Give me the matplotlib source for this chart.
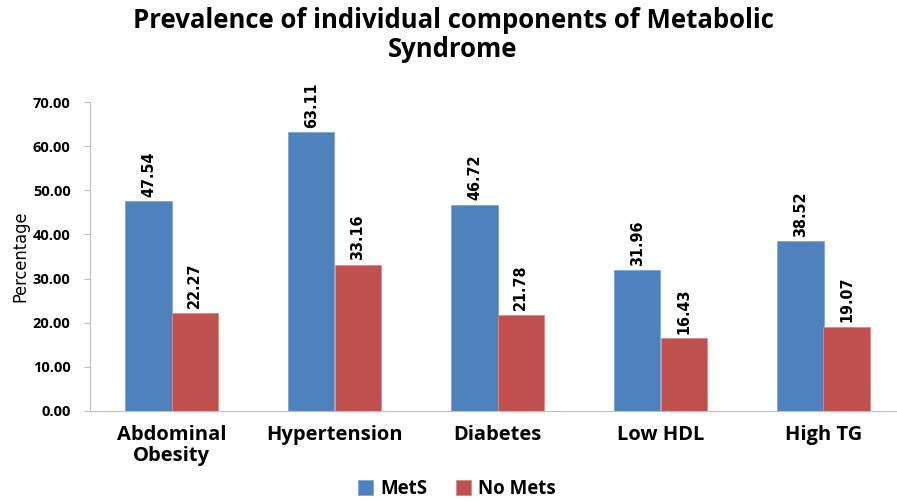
import numpy as np
import matplotlib.pyplot as plt

categories = ['Abdominal\nObesity', 'Hypertension', 'Diabetes', 'Low HDL', 'High TG']
mets = [47.54, 63.11, 46.72, 31.96, 38.52]
no_mets = [22.27, 33.16, 21.78, 16.43, 19.07]
yticks = [0, 10, 20, 30, 40, 50, 60, 70]

blue = '#4F81BD'
red = '#C0504D'
bold = ['Open Sans', 'DejaVu Sans']

fig = plt.figure(figsize=(8.97, 5.01), dpi=100)
W, H = 897.0, 501.0
ax = fig.add_axes([90/W, (H-411)/H, 815/W, 309/H])

x = np.arange(len(categories))
w = 0.283
b1 = ax.bar(x - w/2, mets, w, color=blue, edgecolor='#7fa6d6', linewidth=0.6, label='MetS')
b2 = ax.bar(x + w/2, no_mets, w, color=red, edgecolor='#d98a88', linewidth=0.6, label='No Mets')

for bars, vals in ((b1, mets), (b2, no_mets)):
    for r, v in zip(bars, vals):
        ax.text(r.get_x() + r.get_width()/2, v + 1.0, '%.2f' % v, rotation=90,
                ha='center', va='bottom', fontsize=11.5, family='DejaVu Sans',
                fontstretch='condensed', fontweight='bold')

ax.set_xlim(-0.5, 4.5)
ax.set_ylim(0, 70)
ax.set_yticks(yticks)
ax.set_yticklabels(['%.2f' % t for t in yticks], fontsize=10.5, fontweight='bold', family=bold)
ax.set_xticks(x)
ax.set_xticklabels(categories, fontsize=14.5, fontweight='bold', family=bold, linespacing=1.05)
ax.tick_params(axis='x', length=0, pad=10)
ax.tick_params(axis='y', length=4, color='#bfbfbf', pad=10)
for s in ['top', 'right']:
    ax.spines[s].set_visible(False)
for s in ['left', 'bottom']:
    ax.spines[s].set_color('#bfbfbf')

fig.text(20/W, (H-256)/H, 'Percentage', rotation=90, ha='center', va='center',
         fontsize=13, family='DejaVu Sans', fontstretch='condensed')
fig.text(453/W, (H-35)/H, 'Prevalence of individual components of Metabolic\nSyndrome',
         ha='center', va='center', fontsize=18.5, fontweight='bold', family=bold, linespacing=1.1)

fig.legend(handles=[b1, b2], loc='center', bbox_to_anchor=(457/W, (H-489)/H), ncol=2,
           frameon=False, prop={'family': bold, 'weight': 'bold', 'size': 13.5},
           handlelength=0.8, handleheight=0.8, handletextpad=0.4, columnspacing=1.5)

fig.savefig('out.png', dpi=100)
